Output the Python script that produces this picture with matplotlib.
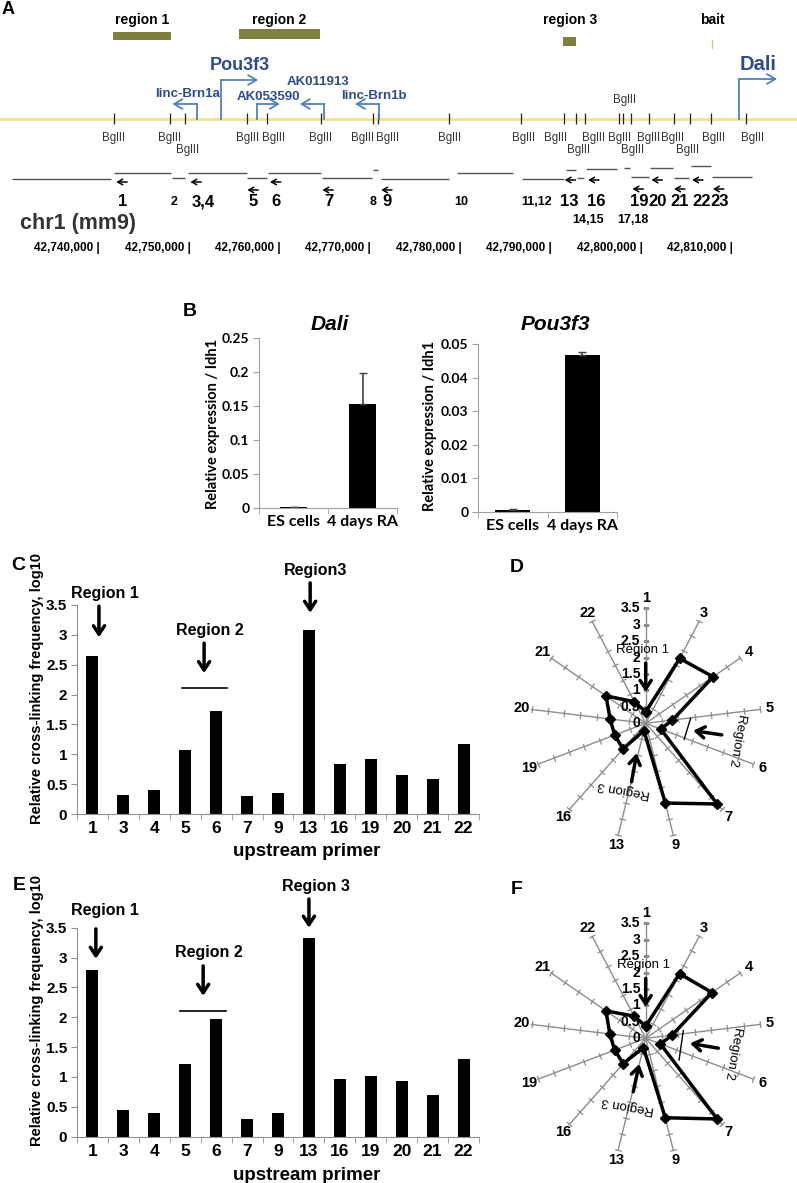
import numpy as np
import matplotlib
matplotlib.use('Agg')
import matplotlib.pyplot as plt
from matplotlib.ticker import FormatStrFormatter

plt.rcParams['font.family'] = ['Liberation Sans', 'DejaVu Sans']

W, H = 797, 1183

# ---------------- panel A data (chr1, mm9, positions in kb) ----------------
chr_ticks = [42740, 42750, 42760, 42770, 42780, 42790, 42800, 42810]
region_names = ['region 1', 'region 2', 'region 3']
region_start = [42741.4, 42755.4, 42791.2]
region_end = [42747.9, 42764.3, 42792.7]
bait_pos = 42807.7
bgl_sites = [42741.5, 42747.7, 42749.4, 42756.3, 42758.5, 42764.4, 42770.2, 42770.8,
             42778.6, 42786.6, 42791.3, 42792.7, 42793.7, 42797.4, 42797.9, 42798.7,
             42800.7, 42803.5, 42805.3, 42807.6, 42811.5]
frag_start = [42730.3, 42741.5, 42748.0, 42749.7, 42756.3, 42758.6, 42764.6, 42770.2,
              42771.1, 42779.5, 42786.7, 42791.5, 42792.8, 42793.8, 42798.0, 42798.7,
              42800.8, 42803.5, 42805.4, 42807.7]
frag_end = [42741.2, 42747.9, 42749.4, 42756.3, 42758.5, 42764.4, 42770.1, 42770.8,
            42778.6, 42785.7, 42791.3, 42792.7, 42793.5, 42797.2, 42798.6, 42800.7,
            42803.4, 42805.2, 42807.6, 42812.1]
primer_names = ['1', '2', '3,4', '5', '6', '7', '8', '9', '10', '11,12', '13', '14,15',
                '16', '17,18', '19', '20', '21', '22', '23']
primer_pos = [42742.5, 42748.2, 42751.4, 42756.9, 42759.5, 42765.3, 42770.2, 42771.7,
              42780.0, 42788.3, 42791.9, 42794.0, 42794.9, 42798.9, 42799.6, 42801.7,
              42804.1, 42806.5, 42808.5]
arrow_pos = [42742.4, 42750.6, 42756.9, 42759.4, 42765.2, 42771.7, 42792.0, 42794.6,
             42799.5, 42801.6, 42804.1, 42806.1, 42808.4]
gene_names = ['linc-Brn1a', 'Pou3f3', 'AK053590', 'AK011913', 'linc-Brn1b', 'Dali']
gene_tss = [42750.7, 42753.4, 42757.4, 42764.8, 42770.9, 42810.7]
gene_tip = [42748.0, 42757.5, 42759.9, 42762.1, 42768.2, 42814.9]

# ---------------- panel B data ----------------
conditions = ['ES cells', '4 days RA']
dali_expr = [0.001, 0.153]
dali_err = [0.0, 0.045]
pou_expr = [0.0007, 0.0468]
pou_err = [0.0001, 0.0008]

# ---------------- panels C-F data ----------------
primers = ['1', '3', '4', '5', '6', '7', '9', '13', '16', '19', '20', '21', '22']
freq_c = [2.65, 0.32, 0.40, 1.08, 1.72, 0.30, 0.35, 3.08, 0.84, 0.92, 0.66, 0.59, 1.18]
freq_e = [2.79, 0.44, 0.40, 1.21, 1.97, 0.30, 0.39, 3.33, 0.96, 1.01, 0.93, 0.69, 1.30]
radar_d = [0.35, 2.23, 2.49, 0.82, 0.49, 3.28, 2.50, 0.23, 1.04, 1.01, 1.09, 1.47, 0.74]
radar_f = [0.37, 2.22, 2.45, 0.81, 0.48, 3.28, 2.49, 0.29, 1.03, 1.01, 1.10, 1.47, 0.76]


fig = plt.figure(figsize=(W / 100, H / 100), dpi=100)


def fpos(x, y):
    return x / W, 1 - y / H


def frect(left, top, width, height):
    return [left / W, 1 - (top + height) / H, width / W, height / H]


def label(x, y, s, size=14, **kw):
    fig.text(*fpos(x, y), s, fontsize=size, fontweight='bold', ha='center', va='center', **kw)


# ================= panel A =================
ax = fig.add_axes([0, 1 - 262 / H, 1, 262 / H])
ax.set_xlim(42740 - 100 / 9.04, 42740 + 697 / 9.04)
ax.set_ylim(262, 0)
ax.axis('off')

olive = '#7f7f3f'
region_y = [(32, 40), (29, 39), (37, 46)]
for name, s, e, (y0, y1) in zip(region_names, region_start, region_end, region_y):
    ax.fill_between([s, e], y0, y1, color=olive, lw=0)
    ax.text((s + e) / 2, 20, name, ha='center', va='center', fontsize=10, fontweight='bold')
ax.plot([bait_pos, bait_pos], [40, 48], color='#c8c8a8', lw=1)
ax.text(bait_pos, 20, 'bait', ha='center', va='center', fontsize=10, fontweight='bold')

ax.axhline(119, color='#f0e490', lw=2.2, zorder=1)
ax.vlines(bgl_sites, 113, 124, color='#222222', lw=0.9, zorder=2)

bgl_dx = [0, 0, 3, 0, 6, 0, -10, 9, 1, 2, -8, 2, 8, 1, 1, 2, 0, -1, -3, 2, 6]
bgl_row = [0, 0, 1, 0, 0, 0, 0, 0, 0, 0, 0, 1, 0, 0, -1, 1, 0, 0, 1, 0, 0]
row_y = {0: 138, 1: 150, -1: 100}
for s, dx, r in zip(bgl_sites, bgl_dx, bgl_row):
    ax.annotate('BglII', xy=(s, row_y[r]), xytext=(dx * 0.72, 0), textcoords='offset points',
                ha='center', va='center', fontsize=8.3, color='#333333')

frag_y = [179, 173, 178, 173, 178, 173, 178, 170, 179, 173, 179, 170, 178, 169, 168,
          177, 168, 178, 166, 177]
ax.hlines(frag_y, frag_start, frag_end, color='#555555', lw=1)

arrow_y = [182, 182, 190, 182, 190, 190, 180, 180, 189, 180, 189, 180, 189]
for p, y in zip(arrow_pos, arrow_y):
    ax.annotate('', xy=(p - 0.6, y), xytext=(p + 0.6, y),
                arrowprops=dict(arrowstyle='->,head_length=0.35,head_width=0.2', lw=1.1,
                                color='black', shrinkA=0, shrinkB=0))

small = {'2', '8', '10', '11,12', '14,15', '17,18'}
for name, p in zip(primer_names, primer_pos):
    y = 220 if name in ('14,15', '17,18') else 202
    fs = 9 if name in small else 12
    ax.text(p, y, name, ha='center', va='center', fontsize=fs, fontweight='bold')

blue_line = '#4f81bd'
blue_text = '#2f4b8a'
gene_h = [104, 80, 104, 104, 104, 79]
gene_ly = [94, 65, 97, 82, 96, 64]
gene_fs = [9.5, 13, 9.5, 9.5, 9.5, 14.5]
gene_dx = [3.5, 0, 0, 6, 7, 0]
for name, tss, tip, h, ly, fs, dx in zip(gene_names, gene_tss, gene_tip, gene_h, gene_ly,
                                        gene_fs, gene_dx):
    ax.plot([tss, tss], [119, h], color=blue_line, lw=1.3)
    ax.annotate('', xy=(tip, h), xytext=(tss, h),
                arrowprops=dict(arrowstyle='->,head_length=0.6,head_width=0.35', lw=1.3,
                                color=blue_line, shrinkA=0, shrinkB=0))
    ax.annotate(name, xy=((tss + tip) / 2, ly), xytext=(dx * 0.72, 0), textcoords='offset points',
                ha='center', va='center', fontsize=fs, fontweight='bold', color=blue_text)

for t in chr_ticks:
    ax.text(t, 248, f'{t * 1000:,} |', ha='right', va='center', fontsize=8.5, fontweight='bold')
fig.text(*fpos(20, 223), 'chr1 (mm9)', fontsize=15.5, fontweight='bold', color='#333333',
         ha='left', va='center')

label(8, 10, 'A', 13)

# ================= panel B =================
lato = ['Lato', 'Liberation Sans', 'DejaVu Sans']


def expr_panel(rect, vals, errs, ymax, step, fmt, width):
    bx = fig.add_axes(rect)
    x = np.arange(len(conditions))
    bx.bar(x, vals, width=width, color='black')
    bx.errorbar(x, vals, yerr=[np.zeros(len(errs)), errs], fmt='none', ecolor='#404040',
                elinewidth=1.2, capsize=3)
    bx.set_xlim(-0.5, 1.5)
    bx.set_ylim(0, ymax)
    bx.set_yticks(np.arange(0, ymax + step / 2, step))
    bx.yaxis.set_major_formatter(FormatStrFormatter(fmt))
    bx.set_xticks(x)
    bx.set_xticklabels(conditions, fontsize=11.5, fontweight='bold', family=lato)
    bx.set_xticks([-0.5, 0.5, 1.5], minor=True)
    bx.tick_params(axis='x', which='major', length=0, pad=5)
    bx.tick_params(axis='x', which='minor', length=4, color='#a0a0a0')
    bx.tick_params(axis='y', length=4, color='#a0a0a0', pad=3)
    for t in bx.get_yticklabels():
        t.set_fontsize(10)
        t.set_fontweight('bold')
        t.set_family(lato)
    for side in ('top', 'right'):
        bx.spines[side].set_visible(False)
    for side in ('left', 'bottom'):
        bx.spines[side].set_color('#a0a0a0')
    return bx


expr_panel(frect(259, 338, 138, 170), dali_expr, dali_err, 0.25, 0.05, '%g', 0.4)
expr_panel(frect(478, 344, 139, 168), pou_expr, pou_err, 0.05, 0.01, '%g', 0.5)
fig.text(*fpos(330, 325), 'Dali', fontsize=15, fontweight='bold', style='italic', ha='center',
         va='center')
fig.text(*fpos(555, 325), 'Pou3f3', fontsize=15, fontweight='bold', style='italic', ha='center',
         va='center')
fig.text(*fpos(213, 424), 'Relative expression / Idh1', rotation=90, fontsize=10.5,
         fontweight='bold', family=lato, ha='center', va='center')
fig.text(*fpos(430, 426), 'Relative expression / Idh1', rotation=90, fontsize=10.5,
         fontweight='bold', family=lato, ha='center', va='center')
label(190, 311, 'B')

# ================= panels C and E =================
arrow_kw = dict(arrowstyle='->,head_length=0.6,head_width=0.4', lw=2.5, color='black',
                shrinkA=0, shrinkB=0)


def freq_panel(rect, vals, ann):
    cx = fig.add_axes(rect)
    x = np.arange(len(primers))
    cx.bar(x, vals, width=0.39, color='black')
    cx.set_xlim(-0.5, len(primers) - 0.5)
    cx.set_ylim(0, 3.5)
    cx.set_yticks(np.arange(0, 3.51, 0.5))
    cx.yaxis.set_major_formatter(FormatStrFormatter('%g'))
    cx.set_xticks(x)
    cx.set_xticklabels(primers, fontsize=12.5, fontweight='bold')
    cx.set_xticks(np.arange(-0.5, len(primers)), minor=True)
    cx.tick_params(axis='x', which='major', length=0, pad=5)
    cx.tick_params(axis='x', which='minor', length=4, color='#909090')
    cx.tick_params(axis='y', length=4, color='#909090', pad=3, labelsize=11)
    for t in cx.get_yticklabels():
        t.set_fontweight('bold')
    for side in ('top', 'right'):
        cx.spines[side].set_visible(False)
    for side in ('left', 'bottom'):
        cx.spines[side].set_color('#909090')
    for name, tx, ty, axx, ay0, ay1 in ann['arrows']:
        cx.text(tx, ty, name, ha='center', va='center', fontsize=11.5, fontweight='bold',
                clip_on=False)
        cx.annotate('', xy=(axx, ay1), xytext=(axx, ay0), arrowprops=arrow_kw,
                    annotation_clip=False)
    x0, x1, yl = ann['line']
    cx.plot([x0, x1], [yl, yl], color='black', lw=1.2)
    return cx


ann_c = {'arrows': [('Region 1', 0.41, 3.70, 0.21, 3.48, 2.96),
                    ('Region 2', 3.80, 3.07, 3.61, 2.86, 2.36),
                    ('Region3', 7.23, 4.07, 7.04, 3.87, 3.37)],
         'line': (2.9, 4.35, 2.11)}
ann_e = {'arrows': [('Region 1', 0.41, 3.79, 0.11, 3.48, 2.98),
                    ('Region 2', 3.78, 3.08, 3.58, 2.86, 2.36),
                    ('Region 3', 7.23, 4.19, 7.00, 3.98, 3.50)],
         'line': (2.83, 4.32, 2.11)}

freq_panel(frect(77, 605, 402, 209), freq_c, ann_c)
freq_panel(frect(77, 927.7, 402, 209), freq_e, ann_e)
for yc in (688, 1010):
    fig.text(*fpos(37, yc), 'Relative cross-linking frequency, log10', rotation=90,
             fontsize=10.5, fontweight='bold', ha='center', va='center')
label(307, 852, 'upstream primer', 13.5)
label(307, 1175, 'upstream primer', 13.5)
label(18, 565, 'C')
label(19, 885, 'E')

# ================= panels D and F (radar) =================
gray = '#8c8c8c'


def radar_panel(rect, vals, ann):
    rx = fig.add_axes(rect, projection='polar')
    rx.set_theta_zero_location('N')
    rx.set_theta_direction(-1)
    rx.set_ylim(0, 4.3)
    rx.set_axis_off()
    theta = np.arange(len(primers)) * 2 * np.pi / len(primers)
    rt = np.arange(0.5, 3.51, 0.5)
    for th, name in zip(theta, primers):
        rx.plot([th, th], [0, 3.5], color=gray, lw=1)
        rx.plot(np.full(rt.size, th), rt, ls='none', marker=(2, 0, 90 - np.degrees(th)),
                ms=5, mec=gray, mew=0.9)
        rx.text(th, 3.8, name, ha='center', va='center', fontsize=10.5, fontweight='bold')
    for r in np.arange(0, 3.51, 0.5):
        rx.annotate(f'{r:g}', xy=(0, r), xytext=(-4, 0), textcoords='offset points',
                    ha='right', va='center', fontsize=10, fontweight='bold')
    rx.plot(np.append(theta, theta[0]), np.append(vals, vals[0]), color='black', lw=2.5,
            marker='D', ms=5.5)
    for name, tx, ty, rot, a0, a1 in ann:
        rx.text(tx, ty, name, rotation=rot, transform=rx.transAxes, ha='center', va='center',
                fontsize=9.5, rotation_mode='anchor')
        rx.annotate('', xy=a1, xytext=a0, xycoords='axes fraction', textcoords='axes fraction',
                    arrowprops=arrow_kw)
    return rx


ann_d = [('Region 1', 0.490, 0.759, 0, (0.5, 0.713), (0.5, 0.611)),
         ('Region 2', 0.823, 0.441, -100, (0.769, 0.459), (0.668, 0.474)),
         ('Region 3', 0.421, 0.266, 170, (0.450, 0.293), (0.468, 0.394))]
ann_f = [('Region 1', 0.491, 0.759, 0, (0.5, 0.712), (0.5, 0.611)),
         ('Region 2', 0.810, 0.447, -100, (0.757, 0.465), (0.657, 0.482)),
         ('Region 3', 0.438, 0.264, 170, (0.456, 0.311), (0.477, 0.409))]

rd = radar_panel(frect(504.4, 582, 282.6, 282.6), radar_d, ann_d)
rd.plot([0.659, 0.636], [0.518, 0.443], color='black', lw=1, transform=rd.transAxes)
rf = radar_panel(frect(504.4, 897, 282.6, 282.6), radar_f, ann_f)
rf.plot([0.633, 0.618], [0.527, 0.423], color='black', lw=1, transform=rf.transAxes)
label(517, 567, 'D')
label(517, 889, 'F')

fig.savefig('out.png', dpi=100)
